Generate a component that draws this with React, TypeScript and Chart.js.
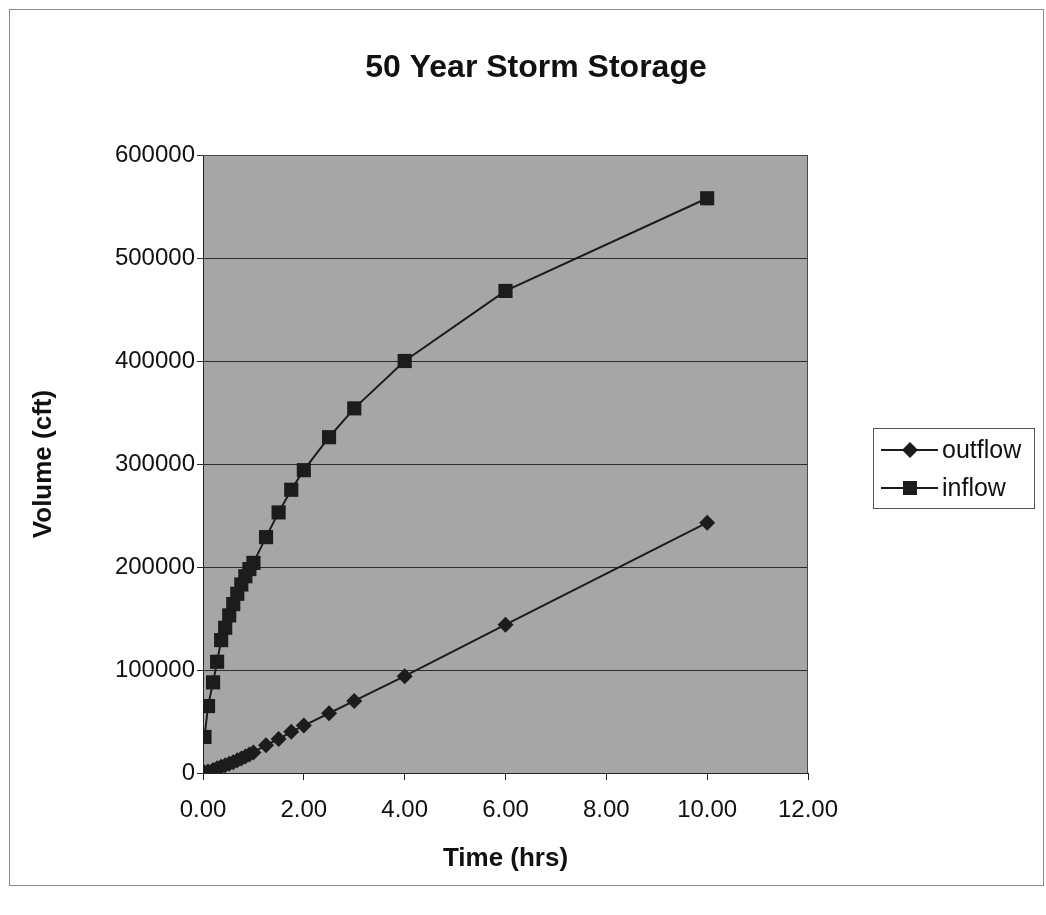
import React, { useEffect, useRef } from 'react';
import { Chart, registerables } from 'chart.js';

Chart.register(...registerables);

// ---- data ----
const timeHrs = [0.03, 0.1, 0.2, 0.28, 0.36, 0.44, 0.52, 0.6, 0.68, 0.76, 0.84, 0.92, 1.0, 1.25, 1.5, 1.75, 2.0, 2.5, 3.0, 4.0, 6.0, 10.0];
const outflowCft = [500, 1500, 3000, 4500, 6000, 7500, 9000, 10500, 12500, 14000, 16000, 18000, 20000, 27000, 33000, 40000, 46000, 58000, 70000, 94000, 144000, 243000];
const inflowCft = [35000, 65000, 88000, 108000, 129000, 141000, 153000, 164000, 174000, 183000, 191000, 198000, 204000, 229000, 253000, 275000, 294000, 326000, 354000, 400000, 468000, 558000];
const xTickValues = [0, 2, 4, 6, 8, 10, 12];
const yTickValues = [0, 100000, 200000, 300000, 400000, 500000, 600000];
const seriesNames = ['outflow', 'inflow'];
const chartTitle = '50 Year Storm Storage';

const FONT = "'Liberation Sans', Arial, sans-serif";
const INK = '#1c1c1c';

const framePlugin = {
  id: 'frame',
  beforeDraw(chart: any) {
    const { ctx, chartArea } = chart;
    ctx.save();
    ctx.fillStyle = '#ffffff';
    ctx.fillRect(0, 0, chart.width, chart.height);
    ctx.strokeStyle = '#8a8a8a';
    ctx.lineWidth = 1;
    ctx.strokeRect(9.5, 9.5, 1034, 876);
    ctx.fillStyle = '#a6a6a6';
    ctx.fillRect(chartArea.left, chartArea.top, chartArea.right - chartArea.left, chartArea.bottom - chartArea.top);
    ctx.fillStyle = '#111111';
    ctx.font = `bold 32px ${FONT}`;
    ctx.textAlign = 'center';
    ctx.textBaseline = 'middle';
    ctx.fillText(chartTitle, 536, 68);
    ctx.restore();
  },
  beforeDatasetsDraw(chart: any) {
    const { ctx, chartArea } = chart;
    ctx.save();
    ctx.strokeStyle = '#4a4a4a';
    ctx.lineWidth = 1;
    ctx.beginPath();
    ctx.moveTo(chartArea.left, chartArea.top + 0.5);
    ctx.lineTo(chartArea.right - 0.5, chartArea.top + 0.5);
    ctx.lineTo(chartArea.right - 0.5, chartArea.bottom);
    ctx.stroke();
    ctx.restore();
  },
  afterDraw(chart: any) {
    const { ctx } = chart;
    const bx = 873, by = 428, bw = 161, bh = 80;
    ctx.save();
    ctx.strokeStyle = '#555555';
    ctx.lineWidth = 1;
    ctx.strokeRect(bx + 0.5, by + 0.5, bw, bh);
    chart.data.datasets.forEach((ds: any, i: number) => {
      const y = by + 22 + i * 38;
      ctx.strokeStyle = INK;
      ctx.lineWidth = 2;
      ctx.beginPath();
      ctx.moveTo(881, y);
      ctx.lineTo(938, y);
      ctx.stroke();
      ctx.fillStyle = INK;
      const cx = 910;
      if (ds.pointStyle === 'rectRot') {
        const r = 8;
        ctx.beginPath();
        ctx.moveTo(cx, y - r);
        ctx.lineTo(cx + r, y);
        ctx.lineTo(cx, y + r);
        ctx.lineTo(cx - r, y);
        ctx.closePath();
        ctx.fill();
      } else {
        ctx.fillRect(cx - 7, y - 7, 14, 14);
      }
      ctx.fillStyle = '#111111';
      ctx.font = `25px ${FONT}`;
      ctx.textAlign = 'left';
      ctx.textBaseline = 'middle';
      ctx.fillText(ds.label, 942, y + 1);
    });
    ctx.restore();
  },
};

export default function App() {
  const ref = useRef<HTMLCanvasElement>(null);
  useEffect(() => {
    if (!ref.current) return;
    const chart = new Chart(ref.current, {
      type: 'line',
      data: {
        datasets: [
          {
            label: seriesNames[0],
            data: timeHrs.map((t, i) => ({ x: t, y: outflowCft[i] })),
            borderColor: INK,
            backgroundColor: INK,
            borderWidth: 2,
            pointStyle: 'rectRot',
            pointRadius: 8,
            pointBorderWidth: 0,
            pointBackgroundColor: INK,
            tension: 0,
          },
          {
            label: seriesNames[1],
            data: timeHrs.map((t, i) => ({ x: t, y: inflowCft[i] })),
            borderColor: INK,
            backgroundColor: INK,
            borderWidth: 2,
            pointStyle: 'rect',
            pointRadius: 10,
            pointBorderWidth: 0,
            pointBackgroundColor: INK,
            tension: 0,
          },
        ],
      },
      options: {
        animation: false,
        responsive: false,
        layout: { padding: { left: 20, right: 238, top: 155, bottom: 31 } },
        plugins: {
          legend: { display: false },
          tooltip: { enabled: false },
          title: { display: false },
        },
        scales: {
          x: {
            type: 'linear',
            min: 0,
            max: 12,
            afterBuildTicks: (s: any) => {
              s.ticks = xTickValues.map((v) => ({ value: v }));
            },
            afterFit: (s: any) => {
              s.height = 111;
            },
            ticks: {
              color: '#111111',
              font: { family: FONT, size: 24 },
              padding: 16,
              maxRotation: 0,
              callback: (v: any) => Number(v).toFixed(2),
            },
            grid: { drawOnChartArea: false, drawTicks: true, tickLength: 7, color: '#222222' },
            border: { color: '#222222', width: 1 },
            title: {
              display: true,
              text: 'Time (hrs)',
              color: '#111111',
              font: { family: FONT, size: 26, weight: 'bold', lineHeight: 1.2 },
              padding: { top: 4, bottom: 10 },
            },
          },
          y: {
            type: 'linear',
            min: 0,
            max: 600000,
            afterBuildTicks: (s: any) => {
              s.ticks = yTickValues.map((v) => ({ value: v }));
            },
            afterFit: (s: any) => {
              s.width = 183;
            },
            ticks: {
              color: '#111111',
              font: { family: FONT, size: 24 },
              padding: 2,
              callback: (v: any) => String(v),
            },
            grid: { drawOnChartArea: true, drawTicks: true, tickLength: 6, color: '#2a2a2a', lineWidth: 1 },
            border: { color: '#222222', width: 1 },
            title: {
              display: true,
              text: 'Volume (cft)',
              color: '#111111',
              font: { family: FONT, size: 26, weight: 'bold', lineHeight: 1.2 },
              padding: { top: 8, bottom: 4 },
            },
          },
        },
      },
      plugins: [framePlugin],
    });
    return () => chart.destroy();
  }, []);
  return (
    <div style={{ position: 'absolute', left: 0, top: 0, width: 1046, height: 915 }}>
      <canvas ref={ref} width={1046} height={915} />
    </div>
  );
}
